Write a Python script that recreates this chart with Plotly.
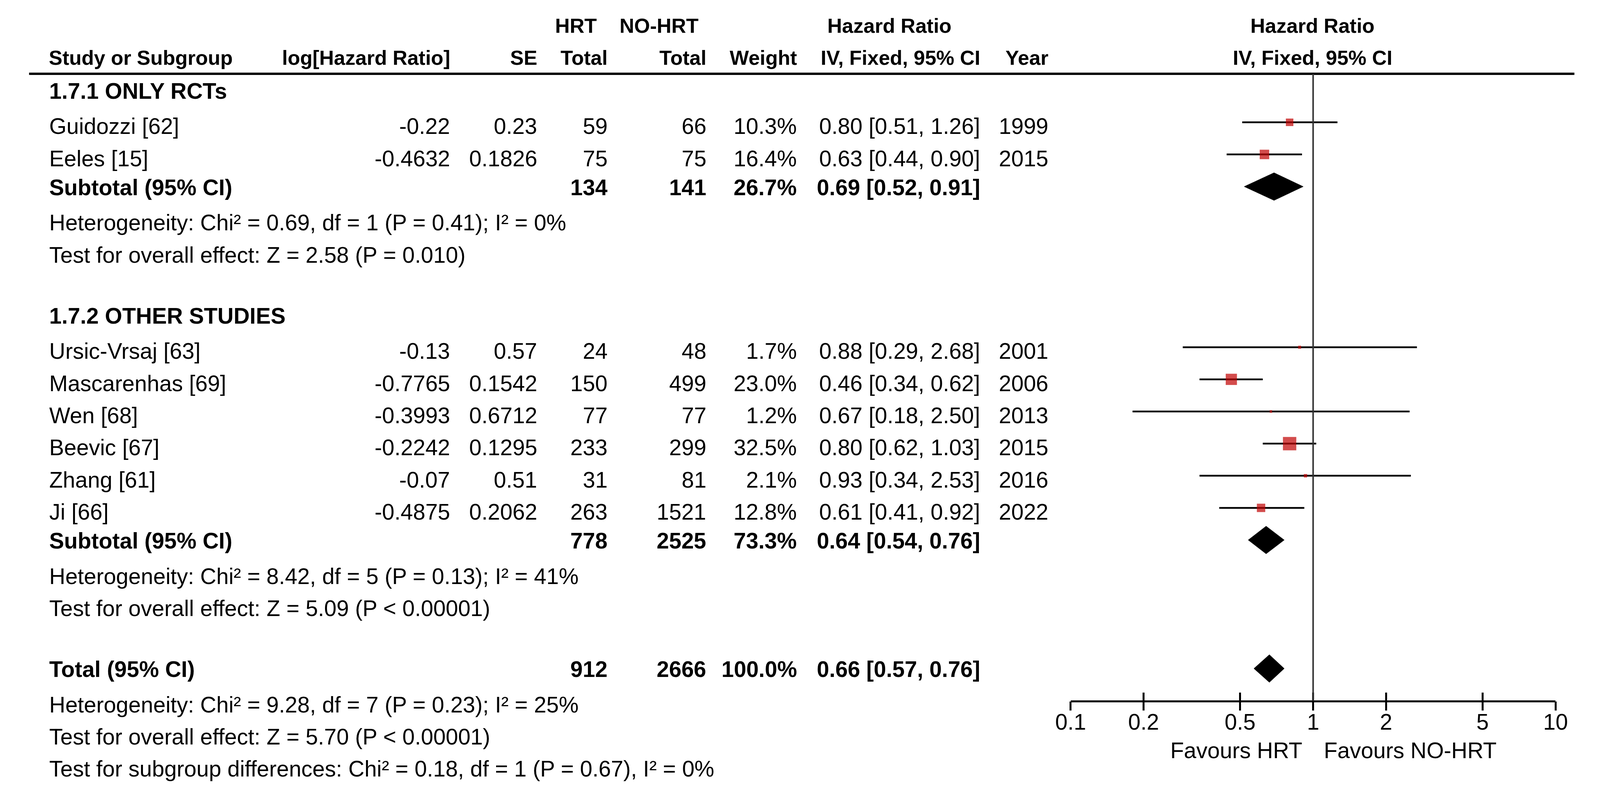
import math
import plotly.graph_objects as go

# ------------------------------------------------------------------ data
studies = ["Guidozzi [62]", "Eeles [15]", "Ursic-Vrsaj [63]", "Mascarenhas [69]",
           "Wen [68]", "Beevic [67]", "Zhang [61]", "Ji [66]"]
study_group = [0, 0, 1, 1, 1, 1, 1, 1]
log_hr = ["-0.22", "-0.4632", "-0.13", "-0.7765", "-0.3993", "-0.2242", "-0.07", "-0.4875"]
se = ["0.23", "0.1826", "0.57", "0.1542", "0.6712", "0.1295", "0.51", "0.2062"]
hrt_total = [59, 75, 24, 150, 77, 233, 31, 263]
nohrt_total = [66, 75, 48, 499, 77, 299, 81, 1521]
weight = [10.3, 16.4, 1.7, 23.0, 1.2, 32.5, 2.1, 12.8]
hr = [0.80, 0.63, 0.88, 0.46, 0.67, 0.80, 0.93, 0.61]
ci_low = [0.51, 0.44, 0.29, 0.34, 0.18, 0.62, 0.34, 0.41]
ci_high = [1.26, 0.90, 2.68, 0.62, 2.50, 1.03, 2.53, 0.92]
year = [1999, 2015, 2001, 2006, 2013, 2015, 2016, 2022]

group_titles = ["1.7.1 ONLY RCTs", "1.7.2 OTHER STUDIES"]
sub_hrt = [134, 778]
sub_nohrt = [141, 2525]
sub_weight = [26.7, 73.3]
sub_hr = [0.69, 0.64]
sub_low = [0.52, 0.54]
sub_high = [0.91, 0.76]
sub_het = ["Heterogeneity: Chi² = 0.69, df = 1 (P = 0.41); I² = 0%",
           "Heterogeneity: Chi² = 8.42, df = 5 (P = 0.13); I² = 41%"]
sub_test = ["Test for overall effect: Z = 2.58 (P = 0.010)",
            "Test for overall effect: Z = 5.09 (P < 0.00001)"]

total_hrt = 912
total_nohrt = 2666
total_weight = 100.0
total_hr = 0.66
total_low = 0.57
total_high = 0.76
total_het = "Heterogeneity: Chi² = 9.28, df = 7 (P = 0.23); I² = 25%"
total_test = "Test for overall effect: Z = 5.70 (P < 0.00001)"
subgroup_test = "Test for subgroup differences: Chi² = 0.18, df = 1 (P = 0.67), I² = 0%"

tick_vals = [0.1, 0.2, 0.5, 1, 2, 5, 10]
tick_text = ["0.1", "0.2", "0.5", "1", "2", "5", "10"]
favours_left = "Favours HRT"
favours_right = "Favours NO-HRT"

# ------------------------------------------------------------------ layout constants
W, H = 4434, 2021          # reference geometry (positions are fractions of it)
FONT = "Liberation Sans, Arial, sans-serif"
FS = 57          # body text size
FS_HEAD = 52     # header (bold) text size
ROW0_PX = 231.0  # pixel centre of first body row
ROW_PX = 82.3    # pixel height of a row
RED = "#C00000"


def px_to_row(px):
    return (px - ROW0_PX) / ROW_PX


def row_px(r):
    return ROW0_PX + ROW_PX * r


# columns (pixel x in the reference)
X_NAME = 93
X_LOGHR = 1227
X_SE = 1473
X_HRT = 1672
X_NOHRT = 1950
X_WEIGHT = 2206
X_CI = 2723
X_YEAR = 2916
X_PLOT_L, X_PLOT_R = 2976, 4344
X_NULL_TXT = 3658

annotations = []


def text(xpx, ypx, s, anchor="left", bold=False, size=FS):
    if bold:
        s = "<b>" + s + "</b>"
    annotations.append(dict(
        x=xpx / W, xref="paper", y=px_to_row(ypx), yref="y",
        text=s, showarrow=False, xanchor=anchor, yanchor="middle",
        font=dict(family=FONT, size=size, color="black")))


def body(r, bold=False):
    return row_px(r) + (2 if bold else 10)


# ------------------------------------------------------------------ row assignment
study_rows = [0] * len(studies)
title_rows, sub_rows, het_rows, test_rows = [], [], [], []
row = 0
for g in range(len(group_titles)):
    title_rows.append(row)
    row += 1
    for i, sg in enumerate(study_group):
        if sg == g:
            study_rows[i] = row
            row += 1
    sub_rows.append(row)
    row += 1
    het_rows.append(row)
    row += 1
    test_rows.append(row)
    row += 2
total_row = row
total_het_row = row + 1
total_test_row = row + 2
subgroup_row = row + 3


def fmt_ci(e, lo, hi):
    return f"{e:.2f} [{lo:.2f}, {hi:.2f}]"


# ------------------------------------------------------------------ headers
text(1519, 66, "HRT", "left", True, FS_HEAD)
text(1701, 66, "NO-HRT", "left", True, FS_HEAD)
text(2465, 66, "Hazard Ratio", "center", True, FS_HEAD)
text(X_NULL_TXT, 66, "Hazard Ratio", "center", True, FS_HEAD)
text(91, 148, "Study or Subgroup", "left", True, FS_HEAD)
text(X_LOGHR, 148, "log[Hazard Ratio]", "right", True, FS_HEAD)
text(X_SE, 148, "SE", "right", True, FS_HEAD)
text(X_HRT, 148, "Total", "right", True, FS_HEAD)
text(X_NOHRT, 148, "Total", "right", True, FS_HEAD)
text(X_WEIGHT, 148, "Weight", "right", True, FS_HEAD)
text(X_CI, 148, "IV, Fixed, 95% CI", "right", True, FS_HEAD)
text(X_YEAR, 148, "Year", "right", True, FS_HEAD)
text(X_NULL_TXT, 148, "IV, Fixed, 95% CI", "center", True, FS_HEAD)

# ------------------------------------------------------------------ body text
for g, t in enumerate(group_titles):
    text(X_NAME, body(title_rows[g], True), t, "left", True)
for i, s in enumerate(studies):
    y = body(study_rows[i])
    text(X_NAME, y, s)
    text(X_LOGHR, y, log_hr[i], "right")
    text(X_SE, y, se[i], "right")
    text(X_HRT, y, str(hrt_total[i]), "right")
    text(X_NOHRT, y, str(nohrt_total[i]), "right")
    text(X_WEIGHT, y, f"{weight[i]:.1f}%", "right")
    text(X_CI, y, fmt_ci(hr[i], ci_low[i], ci_high[i]), "right")
    text(X_YEAR, y, str(year[i]), "right")
for g in range(len(group_titles)):
    y = body(sub_rows[g], True)
    text(X_NAME, y, "Subtotal (95% CI)", "left", True)
    text(X_HRT, y, str(sub_hrt[g]), "right", True)
    text(X_NOHRT, y, str(sub_nohrt[g]), "right", True)
    text(X_WEIGHT, y, f"{sub_weight[g]:.1f}%", "right", True)
    text(X_CI, y, fmt_ci(sub_hr[g], sub_low[g], sub_high[g]), "right", True)
    text(X_NAME, body(het_rows[g]), sub_het[g])
    text(X_NAME, body(test_rows[g]), sub_test[g])

y = body(total_row, True)
text(X_NAME, y, "Total (95% CI)", "left", True)
text(X_HRT, y, str(total_hrt), "right", True)
text(X_NOHRT, y, str(total_nohrt), "right", True)
text(X_WEIGHT, y, f"{total_weight:.1f}%", "right", True)
text(X_CI, y, fmt_ci(total_hr, total_low, total_high), "right", True)
text(X_NAME, body(total_het_row), total_het)
text(X_NAME, body(total_test_row), total_test)
text(X_NAME, body(subgroup_row), subgroup_test)

# favours labels
text(3632, 1922, favours_left, "right")
text(3688, 1922, favours_right, "left")

# ------------------------------------------------------------------ traces
fig = go.Figure()

cx, cy = [], []
for i in range(len(studies)):
    cx += [ci_low[i], ci_high[i], None]
    cy += [study_rows[i], study_rows[i], None]
fig.add_trace(go.Scatter(x=cx, y=cy, mode="lines", line=dict(color="black", width=4.5),
                         hoverinfo="skip", xaxis="x", yaxis="y"))

fig.add_trace(go.Scatter(x=hr, y=study_rows, mode="markers",
                         marker=dict(symbol="square", color=RED,
                                     size=[6.0 * math.sqrt(w) for w in weight],
                                     line=dict(width=0)),
                         hoverinfo="skip", xaxis="x", yaxis="y"))

DH = 0.43
d_est = sub_hr + [total_hr]
d_lo = sub_low + [total_low]
d_hi = sub_high + [total_high]
d_row = sub_rows + [total_row]
for e, lo, hi, r in zip(d_est, d_lo, d_hi, d_row):
    fig.add_trace(go.Scatter(x=[lo, e, hi, e, lo], y=[r, r - DH, r, r + DH, r],
                             mode="lines", fill="toself", fillcolor="black",
                             line=dict(color="black", width=1),
                             hoverinfo="skip", xaxis="x2", yaxis="y"))

AXIS_POS = 1 - 1795.5 / H
dom = [X_PLOT_L / W, X_PLOT_R / W]
log_axis = dict(type="log", range=[-1, 1], domain=dom, anchor="free", position=AXIS_POS,
                showgrid=False, zeroline=False, fixedrange=True, tickvals=tick_vals)

fig.update_layout(
    autosize=True,
    margin=dict(l=0, r=0, t=0, b=0),
    paper_bgcolor="white", plot_bgcolor="white",
    showlegend=False,
    xaxis=dict(**log_axis, showline=True, linecolor="black", linewidth=5,
               ticks="", ticktext=tick_text, ticklabelstandoff=2,
               tickfont=dict(family=FONT, size=FS, color="black")),
    xaxis2=dict(**log_axis, overlaying="x", showline=False,
                ticks="inside", ticklen=22, tickwidth=5, tickcolor="black",
                showticklabels=False),
    xaxis3=dict(**log_axis, overlaying="x", showline=False,
                ticks="outside", ticklen=23, tickwidth=5, tickcolor="black",
                showticklabels=False),
    yaxis=dict(domain=[0, 1], range=[px_to_row(H), px_to_row(0)], visible=False,
               fixedrange=True),
    annotations=annotations,
    shapes=[
        dict(type="line", xref="paper", yref="paper", x0=38 / W, x1=4397 / W,
             y0=1 - 189 / H, y1=1 - 189 / H, line=dict(color="black", width=6)),
        dict(type="line", xref="x", yref="paper", x0=1, x1=1,
             y0=1 - 189 / H, y1=AXIS_POS, line=dict(color="#333333", width=4)),
    ],
)

# invisible trace so that the third overlay axis is drawn
fig.add_trace(go.Scatter(x=[tick_vals[0]], y=[None], mode="markers", xaxis="x3", yaxis="y",
                         hoverinfo="skip", showlegend=False))

fig.write_html(
    "out.html",
    config={"displayModeBar": False},
    post_script="document.body.style.margin='0';"
                "Plotly.Plots.resize(document.getElementById('{plot_id}'));",
)
